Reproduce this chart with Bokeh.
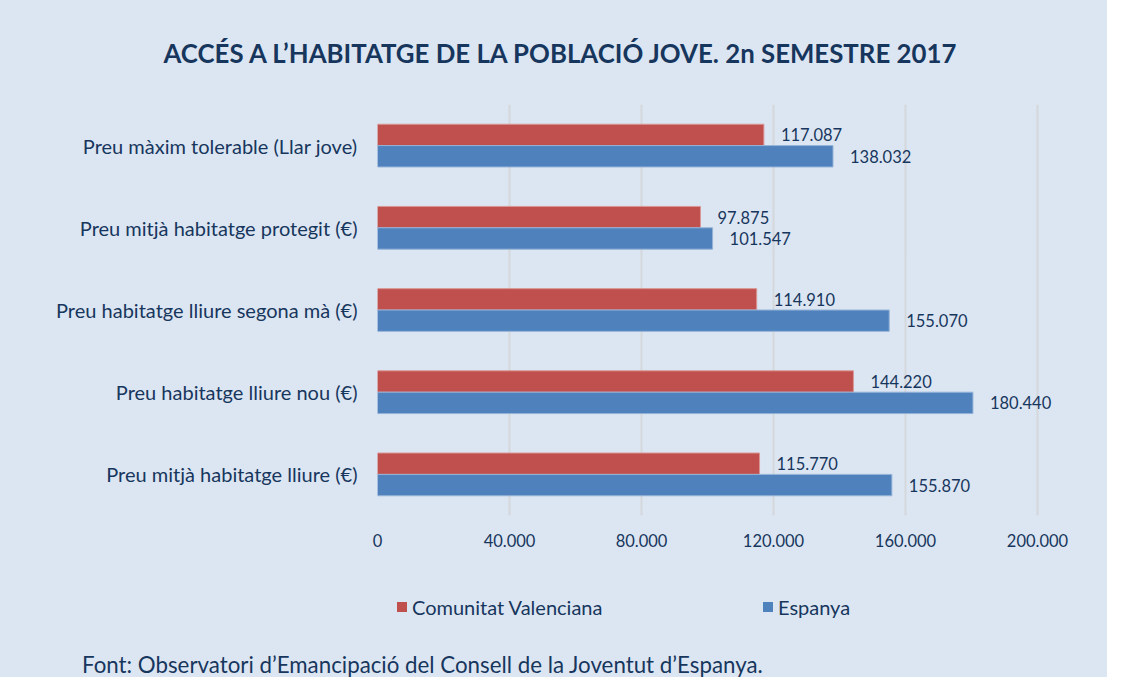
from bokeh.plotting import figure
from bokeh.layouts import column
from bokeh.models import (FactorRange, Range1d, ColumnDataSource, LabelSet, FixedTicker, Div)
from bokeh.transform import dodge
from bokeh.core.properties import value
from bokeh.embed import file_html
from bokeh.resources import INLINE

# ---- data (bottom to top) ----
categories = [
    "Preu mitjà habitatge lliure (€)",
    "Preu habitatge lliure nou (€)",
    "Preu habitatge lliure segona mà (€)",
    "Preu mitjà habitatge protegit (€)",
    "Preu màxim tolerable (Llar jove)",
]
comunitat_valenciana = [115770, 144220, 114910, 97875, 117087]
espanya = [155870, 180440, 155070, 101547, 138032]
x_ticks = [0, 40000, 80000, 120000, 160000, 200000]
series_names = ["Comunitat Valenciana", "Espanya"]
title_text = "ACCÉS A L’HABITATGE DE LA POBLACIÓ JOVE. 2n SEMESTRE 2017"
footer_text = "Font: Observatori d’Emancipació del Consell de la Joventut d’Espanya."

def fmt(v):
    return f"{v:,}".replace(",", ".")

FONT = "Lato"
NAVY = "#17365D"
BG = "#DCE6F2"
RED = "#C0504D"
BLUE = "#4F81BD"
RED_EDGE = "#D99694"
BLUE_EDGE = "#95B3D7"
series_colors = [RED, BLUE]

X_END = 210000
W = 1107
MAIN_H, BOT_H = 560, 117
ML, MR, MT, MB = 377, 37, 104, 45

src = ColumnDataSource(dict(
    cat=categories,
    cv=comunitat_valenciana,
    es=espanya,
    cv_txt=[fmt(v) for v in comunitat_valenciana],
    es_txt=[fmt(v) for v in espanya],
))

p = figure(width=W, height=MAIN_H, y_range=FactorRange(*categories, range_padding=0),
           x_range=Range1d(0, X_END), output_backend="svg", toolbar_location=None,
           min_border_left=ML, min_border_right=MR, min_border_top=MT, min_border_bottom=MB)
p.background_fill_color = BG
p.border_fill_color = BG
p.outline_line_color = None

# title
p.title.text = title_text
p.title.align = "left"
p.title.offset = 163 - ML
p.title.vertical_align = "middle"
p.title.standoff = 72
p.title.text_font = FONT
p.title.text_font_size = "25.8px"
p.title.text_font_style = "bold"
p.title.text_color = NAVY

OFF = 0.13
BH = 0.26
p.hbar(y=dodge("cat", OFF, range=p.y_range), right="cv", left=0, height=BH,
       source=src, fill_color=RED, line_color=RED_EDGE, line_width=1)
p.hbar(y=dodge("cat", -OFF, range=p.y_range), right="es", left=0, height=BH,
       source=src, fill_color=BLUE, line_color=BLUE_EDGE, line_width=1)

for col, txt, off in (("cv", "cv_txt", OFF), ("es", "es_txt", -OFF)):
    p.add_layout(LabelSet(x=col, y=dodge("cat", off, range=p.y_range), text=txt,
                          source=src, x_offset=17, text_baseline="middle",
                          text_font=value(FONT), text_font_size="16.5px", text_color=NAVY))

p.xaxis.ticker = FixedTicker(ticks=x_ticks)
p.xaxis.major_label_overrides = {t: fmt(t) for t in x_ticks}
for ax in (p.xaxis[0], p.yaxis[0]):
    ax.axis_line_color = None
    ax.major_tick_line_color = None
    ax.minor_tick_line_color = None
    ax.major_tick_out = 0
    ax.major_tick_in = 0
    ax.minor_tick_out = 0
    ax.major_label_text_font = FONT
    ax.major_label_text_color = NAVY
p.xaxis.major_label_text_font_size = "16.5px"
p.xaxis.major_label_standoff = 18
p.yaxis.major_label_text_font_size = "20px"
p.yaxis.major_label_standoff = 20

p.xgrid.ticker = FixedTicker(ticks=x_ticks)
p.xgrid.grid_line_color = "#D4D7DB"
p.xgrid.grid_line_width = 2
p.ygrid.grid_line_color = None

# ---- legend and source note under the chart ----
legend_left = [397, 763]
items_html = ""
for name, colr, left in zip(series_names, series_colors, legend_left):
    items_html += (
        f'<div style="position:absolute;left:{left}px;top:35px;height:24px;'
        f'display:flex;align-items:center;white-space:nowrap;">'
        f'<span style="display:inline-block;width:10px;height:10px;background:{colr};'
        f'margin-right:5px;"></span>{name}</div>'
    )
html = (
    f'<div style="position:relative;width:{W}px;height:{BOT_H}px;background:{BG};'
    f'font-family:{FONT};color:{NAVY};">'
    f'<div style="font-size:20px;">{items_html}</div>'
    f'<div style="position:absolute;left:82px;top:92px;line-height:26px;font-size:22.3px;'
    f'white-space:nowrap;">{footer_text}</div>'
    f'</div>'
)
bottom = Div(text=html, width=W, height=BOT_H, margin=0)

layout = column(p, bottom, spacing=0, styles={"background-color": BG})
open("out.html", "w").write(file_html(layout, INLINE))
